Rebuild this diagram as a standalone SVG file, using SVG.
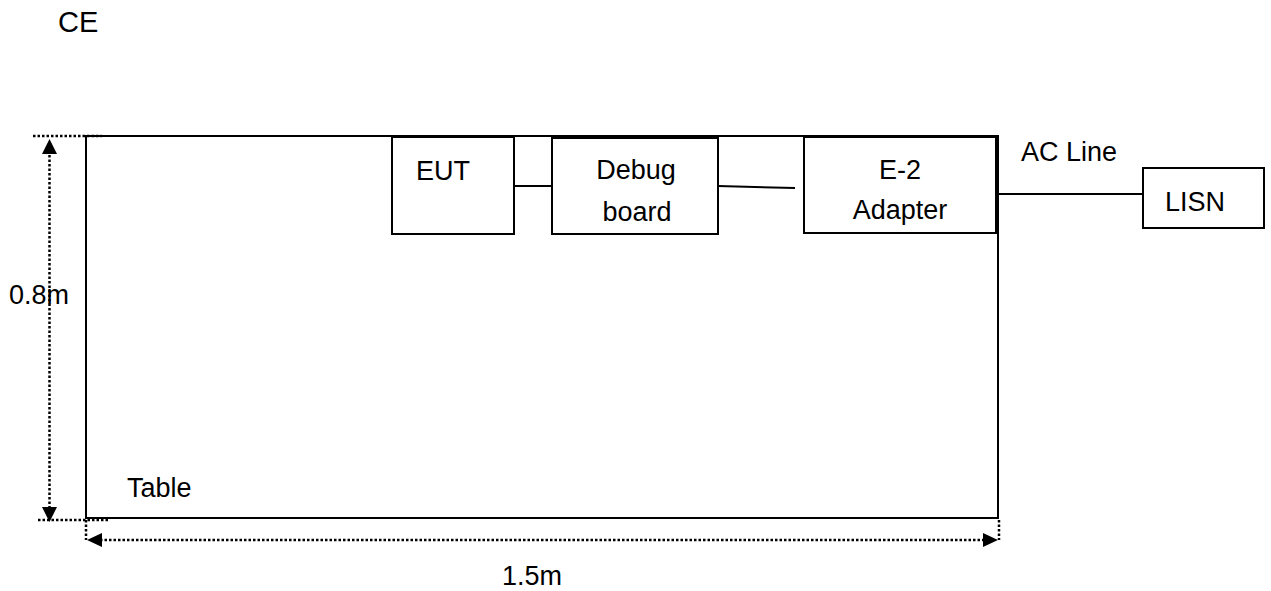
<svg xmlns="http://www.w3.org/2000/svg" width="1271" height="591" viewBox="0 0 1271 591">
<defs>
<style>
.box{fill:#fff;stroke:#000;stroke-width:2}
.ln{stroke:#000;stroke-width:2;fill:none}
.dot{stroke:#000;stroke-width:2.5;stroke-dasharray:2.5 2;fill:none}
.t{font-family:"Liberation Sans",Arial,sans-serif;font-size:27px;fill:#000}
.c{text-anchor:middle}
</style>
</defs>
<rect width="1271" height="591" fill="#fff"/>
<text class="t" x="58" y="32" style="font-size:29px">CE</text>
<g id="table">
<rect class="box" x="86" y="136" width="912" height="382"/>
<text class="t" x="127" y="497">Table</text>
</g>
<g id="eut">
<rect class="box" x="392" y="137" width="122" height="97"/>
<text class="t" x="416" y="180">EUT</text>
</g>
<g id="debug">
<rect class="box" x="552" y="138" width="166" height="96"/>
<text class="t c" x="636" y="179">Debug</text>
<text class="t c" x="637" y="221">board</text>
</g>
<g id="adapter">
<rect class="box" x="804" y="137" width="192" height="96"/>
<text class="t c" x="900" y="179">E-2</text>
<text class="t c" x="900" y="219">Adapter</text>
</g>
<g id="lisn">
<rect class="box" x="1143" y="168" width="121" height="60"/>
<text class="t" x="1165" y="211">LISN</text>
</g>
<g id="connectors">
<line class="ln" x1="514" y1="186" x2="552" y2="186"/>
<line class="ln" x1="718" y1="186" x2="795" y2="188"/>
<line class="ln" x1="998" y1="194" x2="1143" y2="194"/>
<text class="t" x="1021" y="161">AC Line</text>
</g>
<g id="dimensions">
<line class="dot" x1="33" y1="136" x2="102" y2="136"/>
<line class="dot" x1="38" y1="520" x2="108" y2="520"/>
<line class="dot" x1="49.5" y1="146" x2="49.5" y2="514"/>
<path d="M49.5,139 L57,154 L42,154 Z" fill="#000"/>
<path d="M49.5,522 L57,507 L42,507 Z" fill="#000"/>
<line class="dot" x1="86" y1="520" x2="86" y2="540"/>
<line class="dot" x1="999" y1="520" x2="999" y2="540"/>
<line class="dot" x1="100" y1="540" x2="986" y2="540"/>
<path d="M87,540 L102,533 L102,547 Z" fill="#000"/>
<path d="M998,540 L983,533 L983,547 Z" fill="#000"/>
<text class="t" x="9" y="304">0.8m</text>
<text class="t" x="502" y="585">1.5m</text>
</g>
</svg>
